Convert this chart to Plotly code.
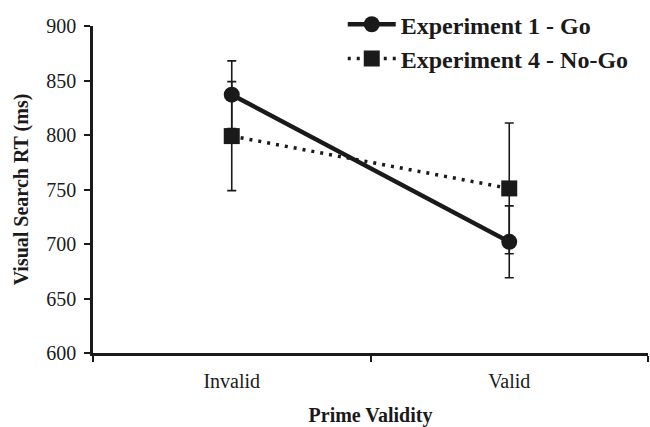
import plotly.graph_objects as go

# Prime validity conditions and mean visual search RTs (ms) with error bars
categories = ["Invalid", "Valid"]
go_rt = [837, 702]
go_err = [31, 33]
nogo_rt = [799, 751]
nogo_err = [50, 60]

y_ticks = [600, 650, 700, 750, 800, 850, 900]

FONT = "Liberation Serif"
INK = "#1a1a1a"

fig = go.Figure()

fig.add_trace(go.Scatter(
    x=categories, y=go_rt,
    name="Experiment 1 - Go",
    mode="lines+markers",
    line=dict(color=INK, width=4.5),
    marker=dict(symbol="circle", size=16, color=INK),
    error_y=dict(type="data", array=go_err, visible=True,
                 color=INK, thickness=1.6, width=4.5),
))

fig.add_trace(go.Scatter(
    x=categories, y=nogo_rt,
    name="Experiment 4 - No-Go",
    mode="lines+markers",
    line=dict(color=INK, width=3.5, dash="3px,6px"),
    marker=dict(symbol="square", size=16, color=INK),
    error_y=dict(type="data", array=nogo_err, visible=True,
                 color=INK, thickness=1.6, width=4.5),
))

fig.update_layout(
    width=650, height=427,
    margin=dict(l=93, r=2, t=21, b=74),
    paper_bgcolor="white", plot_bgcolor="white",
    font=dict(family=FONT, color=INK, size=19),
    showlegend=True,
    legend=dict(
        x=0.45, y=1.073, xanchor="left", yanchor="top",
        bgcolor="rgba(0,0,0,0)",
        font=dict(family=FONT, size=24, color=INK, weight="bold"),
        itemwidth=48, tracegroupgap=0,
    ),
)

fig.update_xaxes(
    type="category", range=[-0.5, 1.5],
    tickson="boundaries",
    showline=True, linecolor=INK, linewidth=2.5,
    ticks="outside", ticklen=6, tickwidth=2, tickcolor=INK,
    showgrid=False, zeroline=False,
    tickfont=dict(family=FONT, size=20, color=INK),
    ticklabelstandoff=8,
    title=dict(text="Prime Validity", standoff=18,
               font=dict(family=FONT, size=20, color=INK, weight="bold")),
)

fig.update_yaxes(
    range=[600, 900], tickvals=y_ticks,
    showline=True, linecolor=INK, linewidth=2.5,
    ticks="outside", ticklen=6, tickwidth=2, tickcolor=INK,
    showgrid=False, zeroline=False,
    tickfont=dict(family=FONT, size=20, color=INK),
    ticklabelstandoff=4,
    title=dict(text="Visual Search RT (ms)", standoff=13,
               font=dict(family=FONT, size=20, color=INK, weight="bold")),
)

fig.write_html("out.html")
